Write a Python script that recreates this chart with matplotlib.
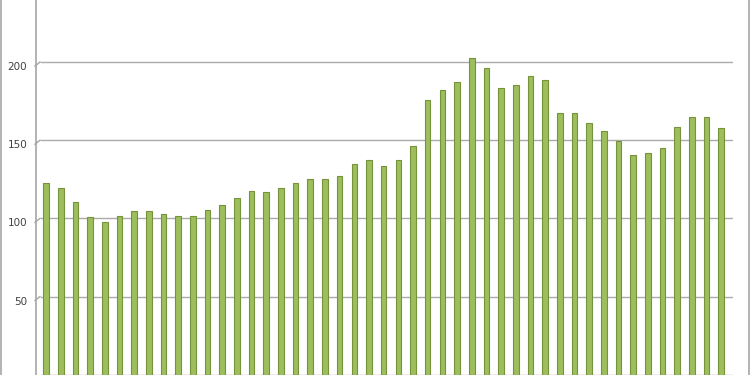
import numpy as np
import matplotlib.pyplot as plt
from matplotlib.lines import Line2D
from matplotlib.transforms import ScaledTranslation

# bar heights (47 columns, no x labels shown)
values = [122.8, 119.2, 110.3, 100.7, 97.9, 101.3, 104.7, 104.9, 103.0, 101.5,
          101.7, 105.3, 108.5, 112.8, 117.3, 117.0, 119.4, 122.4, 125.2, 125.2,
          126.9, 134.6, 137.1, 133.7, 137.5, 146.1, 175.9, 182.1, 187.0, 202.6,
          196.0, 183.6, 185.3, 191.2, 188.3, 167.2, 167.6, 161.2, 155.7, 149.5,
          140.7, 141.8, 145.2, 158.2, 165.0, 165.0, 157.8]
yticks = [50, 100, 150, 200]
ytick_labels = ['50', '100', '150', '200']

W, H = 750, 375
fig = plt.figure(figsize=(W / 100, H / 100), dpi=100)
ax = fig.add_axes([35.5 / W, 0.3 / H, (733 - 35.5) / W, (H - 0.3) / H])

x = np.arange(len(values))
ax.bar(x, values, width=0.38, color='#9DBE5B', edgecolor='#76923C',
       linewidth=0.8, zorder=3)

ax.set_xlim(-0.72, 46.8)
ax.set_ylim(0, 239.7)

# back-wall gridlines, shifted a little right of the axis line
for v in [0] + yticks:
    ax.axhline(v, xmin=5 / (733 - 35.5), xmax=1, color='#ABABAB',
               linewidth=1.0, zorder=1)

ax.set_xticks([])
ax.set_yticks(yticks)
ax.set_yticklabels(ytick_labels)
ax.tick_params(axis='y', length=0, pad=6, labelsize=7.5, labelcolor='#404040')
shift = ScaledTranslation(0, -4 / 100, fig.dpi_scale_trans)
for lab in ax.get_yticklabels():
    lab.set_transform(lab.get_transform() + shift)

# small diagonal connectors from axis to gridlines
for v in yticks:
    y_px = ax.transData.transform((0, v))[1]
    fig.add_artist(Line2D([35 / W, 40 / W], [(y_px - 4) / H, y_px / H],
                          color='#A6A6A6', linewidth=1.0))

for side in ['top', 'right', 'bottom']:
    ax.spines[side].set_visible(False)
ax.spines['left'].set_color('#A6A6A6')
ax.spines['left'].set_linewidth(1.2)

# chart border on both sides
fig.add_artist(Line2D([1 / W, 1 / W], [0, 1], color='#A6A6A6', linewidth=1.2))
fig.add_artist(Line2D([749 / W, 749 / W], [0, 1], color='#A6A6A6', linewidth=1.2))

fig.savefig('out.png', dpi=100)
